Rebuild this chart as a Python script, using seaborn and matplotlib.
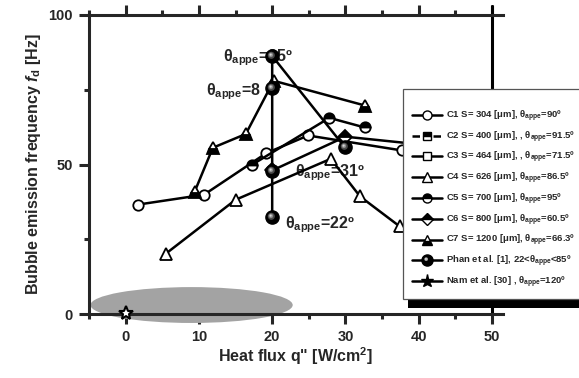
import matplotlib
matplotlib.use("Agg")
import matplotlib.pyplot as plt
import seaborn as sns
import numpy as np
from matplotlib.lines import Line2D
from matplotlib.patches import Ellipse, Rectangle
from matplotlib.path import Path
from matplotlib.markers import MarkerStyle
from matplotlib.legend_handler import HandlerTuple
from matplotlib.transforms import IdentityTransform

# ---- data ----
c1_x = [1.7, 10.7, 19.2, 24.9, 37.7]
c1_y = [36.6, 39.9, 53.8, 59.7, 54.7]
c4_x = [5.5, 15.0, 28.0, 32.0, 37.4]
c4_y = [20.2, 38.2, 51.9, 39.3, 29.3]
c5_x = [17.3, 27.8, 32.6]
c5_y = [50.0, 65.6, 62.4]
c6_x = [20.0, 30.0, 45.0]
c6_y = [48.0, 59.3, 55.5]
c7_x = [9.4, 11.9, 16.4, 20.2, 32.7]
c7_y = [40.8, 55.6, 60.2, 78.0, 69.7]
phan_x = [20.0, 20.0, 20.0, 20.0, 29.9]
phan_y = [32.4, 47.8, 75.6, 86.3, 55.8]
nam_x = [0.0]
nam_y = [0.5]

labels = [
    "C1 S= 304 [μm], θ$_{\\mathrm{appe}}$=90º",
    "C2 S= 400 [μm], , θ$_{\\mathrm{appe}}$=91.5º",
    "C3 S= 464 [μm], , θ$_{\\mathrm{appe}}$=71.5º",
    "C4 S= 626 [μm], θ$_{\\mathrm{appe}}$=86.5º",
    "C5 S= 700 [μm], θ$_{\\mathrm{appe}}$=95º",
    "C6 S= 800 [μm], θ$_{\\mathrm{appe}}$=60.5º",
    "C7 S= 1200 [μm], θ$_{\\mathrm{appe}}$=66.3º",
    "Phan et al. [1], 22<θ$_{\\mathrm{appe}}$<85º",
    "Nam et al. [30] , θ$_{\\mathrm{appe}}$=120º",
]
annot_text = ["θ$_{\\mathrm{appe}}$=85º", "θ$_{\\mathrm{appe}}$=8",
              "θ$_{\\mathrm{appe}}$=31º", "θ$_{\\mathrm{appe}}$=22º"]
annot_x = [13.3, 11.0, 23.1, 21.7]
annot_y = [85.7, 74.3, 47.3, 30.0]
x_ticks = [0, 10, 20, 30, 40, 50]
y_ticks = [0, 50, 100]

# ---- style ----
sns.set_style("ticks")
plt.rcParams["font.family"] = ["Liberation Sans", "DejaVu Sans"]
plt.rcParams["font.weight"] = "bold"
plt.rcParams["mathtext.fontset"] = "custom"
plt.rcParams["mathtext.rm"] = "Liberation Sans:bold"
plt.rcParams["mathtext.bf"] = "Liberation Sans:bold"
plt.rcParams["mathtext.it"] = "Liberation Sans:bold:italic"

fig = plt.figure(figsize=(5.79, 3.78), dpi=100)
ax = fig.add_axes([89 / 579, 1 - 314 / 378, (503 - 89) / 579, (314 - 15) / 378])

LW = 1.8
base = dict(color="k", lw=LW, sort=False, estimator=None, ax=ax, legend=False)

# gray ellipse
ell = Ellipse((9.0, 3.0), 27.6, 12.0, facecolor="#a3a3a3", edgecolor="none",
              zorder=1, clip_on=False)
ax.add_patch(ell)

# sphere highlight marker
def circ(cx, cy, r):
    return Path.circle(center=(cx, cy), radius=r)
frame = Path([[0.5, 0.5], [-0.5, -0.5]], [Path.MOVETO, Path.MOVETO])
hl1 = MarkerStyle(Path.make_compound_path(frame, circ(-0.09, 0.09, 0.27)))
hl2 = MarkerStyle(Path.make_compound_path(frame, circ(-0.12, 0.12, 0.17)))
hl3 = MarkerStyle(Path.make_compound_path(frame, circ(-0.14, 0.14, 0.08)))

sns.lineplot(x=c1_x, y=c1_y, marker="o", ms=7.5, mfc="white", mec="k", mew=1.3, zorder=3, **base)
sns.lineplot(x=c4_x, y=c4_y, marker="^", ms=8.5, mfc="white", mec="k", mew=1.3, zorder=3, **base)
sns.lineplot(x=c5_x, y=c5_y, marker="o", ms=7.5, mfc="k", mfcalt="white", fillstyle="top", mec="k", mew=1.3, zorder=3, **base)
sns.lineplot(x=c6_x, y=c6_y, marker="D", ms=7, mfc="k", mfcalt="white", fillstyle="top", mec="k", mew=1.3, zorder=3, **base)
sns.lineplot(x=c7_x, y=c7_y, marker="^", ms=8.5, mfc="k", mfcalt="white", fillstyle="bottom", mec="k", mew=1.3, zorder=3, **base)
sns.lineplot(x=phan_x, y=phan_y, marker="o", ms=9.5, mfc="k", mec="k", mew=1, zorder=5, **base)
for hm, col in [(hl1, "#4a4a4a"), (hl2, "#8c8c8c"), (hl3, "#d8d8d8")]:
    ax.plot(phan_x, phan_y, ls="none", marker=hm, ms=9.5, mfc=col, mec="none", zorder=6)
ax.plot(nam_x, nam_y, ls="none", marker="*", ms=10, mfc="white", mec="k", mew=1.5,
        zorder=6, clip_on=False)

# annotations
for t, x, y in zip(annot_text, annot_x, annot_y):
    ax.text(x, y, t, fontsize=11.5, fontweight="bold", ha="left", va="center", zorder=2)

# vertical line at x=50 (hidden by legend mostly)
ax.axvline(50, color="k", lw=2.2, zorder=2, ymax=1.03, clip_on=False)

ax.set_xlim(-5, 51.5)
ax.set_ylim(0, 100)
ax.set_xticks(x_ticks)
ax.set_xticks([-5, 5, 15, 25, 35, 45], minor=True)
ax.set_yticks(y_ticks)
ax.set_yticks([25, 75], minor=True)
ax.set_xticklabels([str(v) for v in x_ticks])
ax.set_yticklabels([str(v) for v in y_ticks])
ax.tick_params(which="both", direction="out", width=2.2, top=True, right=False,
               labelsize=10.5, pad=4)
ax.tick_params(which="major", length=7.5)
ax.tick_params(which="minor", length=3.5)
for lab in ax.get_xticklabels() + ax.get_yticklabels():
    lab.set_fontweight("bold")
for s in ["left", "bottom", "top"]:
    ax.spines[s].set_linewidth(2.2)
    ax.spines[s].set_zorder(4)
ax.spines["right"].set_visible(False)

ax.set_xlabel('Heat flux q" [W/cm$^{\\mathrm{2}}$]', fontsize=11.5, fontweight="bold", labelpad=1)
ax.set_ylabel("Bubble emission frequency $\\mathit{f}_{\\mathrm{d}}$ [Hz]", fontsize=11.5,
              fontweight="bold", labelpad=4)

# legend
ms_l = 6.5
h1 = Line2D([], [], color="k", lw=LW, marker="o", ms=ms_l, mfc="white", mec="k")
h2 = Line2D([], [], color="k", lw=LW, ls=(0, (3, 1.2)), marker="s", ms=ms_l - 0.5, mfc="k",
            mfcalt="white", fillstyle="top", mec="k")
h3 = Line2D([], [], color="k", lw=LW, marker="s", ms=ms_l - 0.5, mfc="white", mec="k")
h4 = Line2D([], [], color="k", lw=LW, marker="^", ms=ms_l + 1, mfc="white", mec="k")
h5 = Line2D([], [], color="k", lw=LW, marker="o", ms=ms_l, mfc="k", mfcalt="white",
            fillstyle="top", mec="k")
h6 = Line2D([], [], color="k", lw=LW, marker="D", ms=ms_l, mfc="k", mfcalt="white",
            fillstyle="top", mec="k")
h7 = Line2D([], [], color="k", lw=LW, marker="^", ms=ms_l + 1, mfc="k", mfcalt="white",
            fillstyle="bottom", mec="k")
h8a = Line2D([], [], color="k", lw=LW, marker="o", ms=ms_l + 1.5, mfc="k", mec="k")
h8b = Line2D([], [], ls="none", marker=hl2, ms=ms_l + 1.5, mfc="#9a9a9a", mec="none")
h8c = Line2D([], [], ls="none", marker=hl3, ms=ms_l + 1.5, mfc="#dddddd", mec="none")
h9 = Line2D([], [], color="k", lw=LW, marker="*", ms=ms_l + 3, mfc="k", mec="k")
handles = [h1, h2, h3, h4, h5, h6, h7, (h8a, h8b, h8c), h9]

leg = fig.legend(handles, labels, loc="upper left", bbox_to_anchor=(403 / 579, 1 - 89 / 378),
                 fontsize=6.8, frameon=True, fancybox=False, shadow=False,
                 title=" ", title_fontsize=4.0,
                 handlelength=3.2, handletextpad=0.35,
                 labelspacing=0.6, borderpad=0.95, borderaxespad=0,
                 handler_map={tuple: HandlerTuple(ndivide=1)})
leg.get_frame().set_edgecolor("#555555")
leg.get_frame().set_linewidth(0.9)
leg.get_frame().set_facecolor("white")
leg.get_frame().set_alpha(1)
for t in leg.get_texts():
    t.set_fontweight("bold")
leg.set_zorder(10)

fig.canvas.draw()
bb = leg.get_window_extent()
shadow = Rectangle((bb.x0 + 5, bb.y0 - 9), bb.width + 20, bb.height, transform=IdentityTransform(),
                   facecolor="k", edgecolor="none", zorder=9)
fig.add_artist(shadow)

fig.savefig("out.png", dpi=100)
